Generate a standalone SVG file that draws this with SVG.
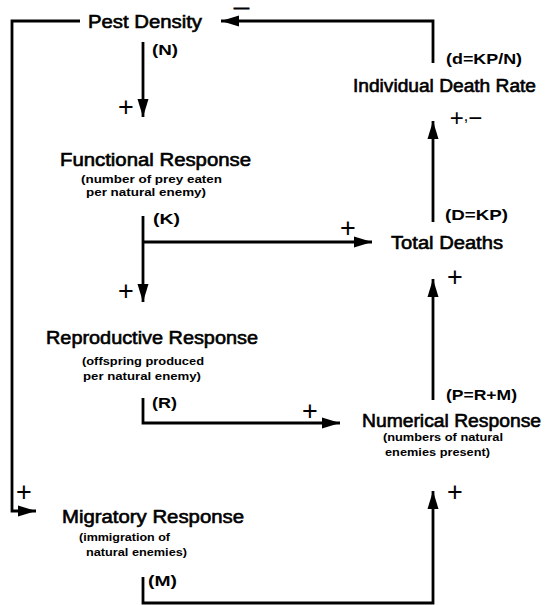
<svg xmlns="http://www.w3.org/2000/svg" width="549" height="605" viewBox="0 0 549 605">
<style>
.t{font-family:"Liberation Sans",Arial,sans-serif;font-size:18px;fill:#000;stroke:#000;stroke-width:0.6}
.s{font-family:"Liberation Sans",Arial,sans-serif;font-size:11px;font-weight:bold;fill:#000}
.l{font-family:"Liberation Sans",Arial,sans-serif;font-size:15px;font-weight:bold;fill:#000}
.p{font-family:"Liberation Sans",Arial,sans-serif;font-size:27px;fill:#000;text-anchor:middle}
.c{fill:none;stroke:#000;stroke-width:2.8;stroke-linejoin:miter}
</style>
<defs>
<marker id="ah" markerUnits="userSpaceOnUse" markerWidth="20" markerHeight="12" refX="18" refY="6" orient="auto">
<path d="M0,0.5 L18,6 L0,11.5 z" fill="#000"/>
</marker>
</defs>
<rect width="549" height="605" fill="#fff"/>
<g id="connectors">
<path class="c" d="M80,21 H12 V511 H36" marker-end="url(#ah)"/>
<path class="c" d="M433,63 V21 H221" marker-end="url(#ah)"/>
<path class="c" d="M143,42 V117" marker-end="url(#ah)"/>
<path class="c" d="M143,216 V302" marker-end="url(#ah)"/>
<path class="c" d="M143,242 H372" marker-end="url(#ah)"/>
<path class="c" d="M143,398 V423 H340" marker-end="url(#ah)"/>
<path class="c" d="M143,577 V603 H433 V491" marker-end="url(#ah)"/>
<path class="c" d="M433,400 V279" marker-end="url(#ah)"/>
<path class="c" d="M433,222 V121" marker-end="url(#ah)"/>
</g>
<g id="signs">
<text x="241" y="13" font-family="Liberation Sans, Arial, sans-serif" font-size="14" text-anchor="middle" fill="#000" stroke="#000" stroke-width="0.9" textLength="17" lengthAdjust="spacingAndGlyphs">−</text>
<text class="p" x="126" y="116">+</text>
<text class="p" x="126" y="300">+</text>
<text class="p" x="348" y="237">+</text>
<text class="p" x="310" y="420">+</text>
<text class="p" x="24" y="501">+</text>
<text class="p" x="455" y="286">+</text>
<text class="p" x="455" y="501">+</text>
<text class="p" x="466" y="126" style="font-size:24px">+<tspan font-size="16" dy="-5">,</tspan><tspan dy="5">−</tspan></text>
</g>
<g id="pest-density">
<text class="t" x="88" y="28" textLength="114" lengthAdjust="spacingAndGlyphs">Pest Density</text>
<text class="l" x="152" y="55" textLength="26" lengthAdjust="spacingAndGlyphs">(N)</text>
</g>
<g id="functional-response">
<text class="t" x="60" y="166" textLength="191" lengthAdjust="spacingAndGlyphs">Functional Response</text>
<text class="s" x="81" y="183" textLength="141" lengthAdjust="spacingAndGlyphs">(number of prey eaten</text>
<text class="s" x="86" y="196" textLength="120" lengthAdjust="spacingAndGlyphs">per natural enemy)</text>
<text class="l" x="153" y="224" textLength="27" lengthAdjust="spacingAndGlyphs">(K)</text>
</g>
<g id="reproductive-response">
<text class="t" x="46" y="344" textLength="212" lengthAdjust="spacingAndGlyphs">Reproductive Response</text>
<text class="s" x="82" y="365" textLength="122" lengthAdjust="spacingAndGlyphs">(offspring produced</text>
<text class="s" x="83" y="380" textLength="118" lengthAdjust="spacingAndGlyphs">per natural enemy)</text>
<text class="l" x="152" y="408" textLength="25" lengthAdjust="spacingAndGlyphs">(R)</text>
</g>
<g id="migratory-response">
<text class="t" x="62" y="523" textLength="182" lengthAdjust="spacingAndGlyphs">Migratory Response</text>
<text class="s" x="79" y="541" textLength="91" lengthAdjust="spacingAndGlyphs">(immigration of</text>
<text class="s" x="86" y="556" textLength="101" lengthAdjust="spacingAndGlyphs">natural enemies)</text>
<text class="l" x="148" y="586" textLength="29" lengthAdjust="spacingAndGlyphs">(M)</text>
</g>
<g id="individual-death-rate">
<text class="l" x="446" y="64" textLength="76" lengthAdjust="spacingAndGlyphs">(d=KP/N)</text>
<text class="t" x="353" y="92" textLength="183" lengthAdjust="spacingAndGlyphs">Individual Death Rate</text>
</g>
<g id="total-deaths">
<text class="l" x="445" y="220" textLength="63" lengthAdjust="spacingAndGlyphs">(D=KP)</text>
<text class="t" x="391" y="249" textLength="112" lengthAdjust="spacingAndGlyphs">Total Deaths</text>
</g>
<g id="numerical-response">
<text class="l" x="446" y="400" textLength="71" lengthAdjust="spacingAndGlyphs">(P=R+M)</text>
<text class="t" x="362" y="427" textLength="179" lengthAdjust="spacingAndGlyphs">Numerical Response</text>
<text class="s" x="383" y="441" textLength="120" lengthAdjust="spacingAndGlyphs">(numbers of natural</text>
<text class="s" x="385" y="456" textLength="105" lengthAdjust="spacingAndGlyphs">enemies present)</text>
</g>
</svg>
